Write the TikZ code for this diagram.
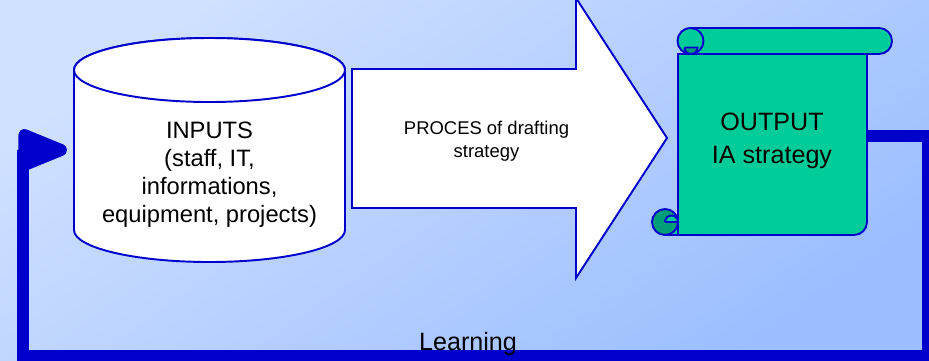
\documentclass[tikz,border=0pt]{standalone}
\usepackage{fontspec}
\setmainfont{Liberation Sans}
\usetikzlibrary{arrows.meta,calc}
\definecolor{edgeblue}{HTML}{0000CC}
\definecolor{scrollgreen}{HTML}{00CC99}
\definecolor{curlgreen}{HTML}{009E78}
\definecolor{bglight}{HTML}{D0E1FF}
\definecolor{bgdark}{HTML}{9CBEFF}
\tikzset{
    flow/.style = {draw=edgeblue, fill=white, line width=1.1pt},
    scroll/.style = {draw=edgeblue, fill=scrollgreen, line width=1.1pt},
    curl/.style = {draw=edgeblue, fill=curlgreen, line width=1.1pt},
    feedback/.style = {draw=edgeblue, line width=0.24cm,
        -{Triangle[length=1.2cm, width=0.88cm, round]}},
    bigtxt/.style = {align=center, inner sep=0pt, font=\fontsize{13.5}{15.9}\selectfont},
    smalltxt/.style = {align=center, inner sep=0pt, font=\fontsize{10.5}{12.8}\selectfont},
    outtxt/.style = {align=center, inner sep=0pt, font=\fontsize{14.3}{18.7}\selectfont}
}

\begin{document}
\begin{tikzpicture}[x=0.02cm, y=-0.02cm]
    % background
    \useasboundingbox (0,0) rectangle (929,360);
    \shade[top color=bglight, bottom color=bgdark, shading angle=35] (0,0) rectangle (929,360);

    % inputs
    \path[flow] (74,70) -- (74,230) arc[start angle=180, end angle=0, x radius=135.5, y radius=32]
        -- (345,70) arc[start angle=0, end angle=-180, x radius=135.5, y radius=32] -- cycle;
    \path[flow] (209.5,70) ellipse[x radius=135.5, y radius=32];
    \coordinate (inputs) at (74,150);
    \node[bigtxt] (intext) at (209.5,175) {INPUTS\\(staff, IT,\\informations,\\equipment, projects)};

    % process arrow
    \path[flow] (352,69) -- (576,69) -- (576,-2) -- (667,138) -- (576,278) -- (576,208) -- (352,208) -- cycle;
    \node[smalltxt] (proc) at (486.5,141) {PROCES of drafting\\strategy};

    % output scroll
    \path[scroll] (678,54) -- (867,54) [rounded corners=0.26cm] -- (867,235) [sharp corners] -- (665,235) -- (665,222) -- (678,222) -- cycle;
    \path[scroll, rounded corners=0.26cm] (678,28) rectangle (892,54);
    \path[scroll] (690.5,41) circle[radius=13];
    \path[curl] (684.5,47.5) -- (697.5,47.5) arc[start angle=0, end angle=180, radius=6.5];
    \path[curl] (665,222) circle[radius=13];
    \path[scroll] (665,222) -- (678,222) arc[start angle=0, end angle=-180, radius=6.5];
    \draw[edgeblue, line width=1.1pt] (678,209) -- (678,235);
    \node[outtxt] (outtext) at (772,141) {OUTPUT\\IA strategy};

    % learning loop
    \coordinate (outR) at (867,136);
    \coordinate (loopA) at (928,136);
    \coordinate (loopB) at (928,356);
    \coordinate (loopC) at (23,356);
    \coordinate (loopD) at (23,150);
    \draw[feedback, shorten >=0.14cm] (outR) -- (loopA) -- (loopB) -- (loopC) -- (loopD) -- (inputs);
    \node[outtxt, anchor=base] (learn) at (468,350) {Learning};
\end{tikzpicture}
\end{document}
